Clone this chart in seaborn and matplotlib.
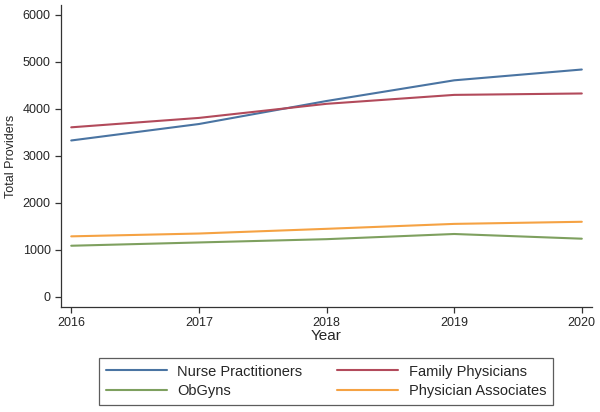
import pandas as pd
import numpy as np
import seaborn as sns
import matplotlib.pyplot as plt

# values
years = [2016, 2017, 2018, 2019, 2020]
nurse_practitioners = [3330, 3680, 4170, 4610, 4840]
family_physicians = [3610, 3810, 4110, 4300, 4330]
obgyns = [1090, 1160, 1230, 1340, 1240]
physician_associates = [1290, 1350, 1450, 1555, 1600]

groups = ['Nurse Practitioners', 'Family Physicians', 'ObGyns', 'Physician Associates']
colors = ['#4a74a2', '#b24a5b', '#7ea05f', '#f5a243']

df = pd.DataFrame({
    'Year': years * 4,
    'Total Providers': nurse_practitioners + family_physicians + obgyns + physician_associates,
    'group': np.repeat(groups, len(years)),
})

sns.set_style('ticks')
plt.rcParams['font.family'] = ['Liberation Sans', 'DejaVu Sans']

fig = plt.figure(figsize=(6, 4.12), dpi=100)
ax = fig.add_axes([0.1017, 0.2549, 0.885, 0.733])

sns.lineplot(data=df, x='Year', y='Total Providers', hue='group', hue_order=groups,
             palette=colors, linewidth=1.5, ax=ax, legend=False)

ax.set_xlim(2015.92, 2020.08)
ax.set_ylim(-213, 6213)
ax.set_xticks(years)
ax.set_yticks(range(0, 6001, 1000))
ax.tick_params(labelsize=9, length=4, width=0.9, color='#333333')
ax.set_xlabel('Year', fontsize=11, labelpad=0)
ax.set_ylabel('Total Providers', fontsize=9, labelpad=4)
for s in ['left', 'bottom']:
    ax.spines[s].set_color('#333333')
    ax.spines[s].set_linewidth(0.9)
sns.despine(ax=ax)

# legend filled row by row like the reference
order = [0, 2, 1, 3]
handles = [plt.Line2D([], [], color=colors[i], linewidth=1.5) for i in order]
labels = [groups[i] for i in order]
leg = fig.legend(handles, labels, loc='center', bbox_to_anchor=(0.543, 0.074),
                 ncol=2, fontsize=10.5, frameon=True, fancybox=False,
                 handlelength=4.2, handletextpad=0.7, columnspacing=2.4,
                 labelspacing=0.4, borderpad=0.45)
leg.get_frame().set_edgecolor('#333333')
leg.get_frame().set_linewidth(0.9)

fig.savefig('out.png', dpi=100)
